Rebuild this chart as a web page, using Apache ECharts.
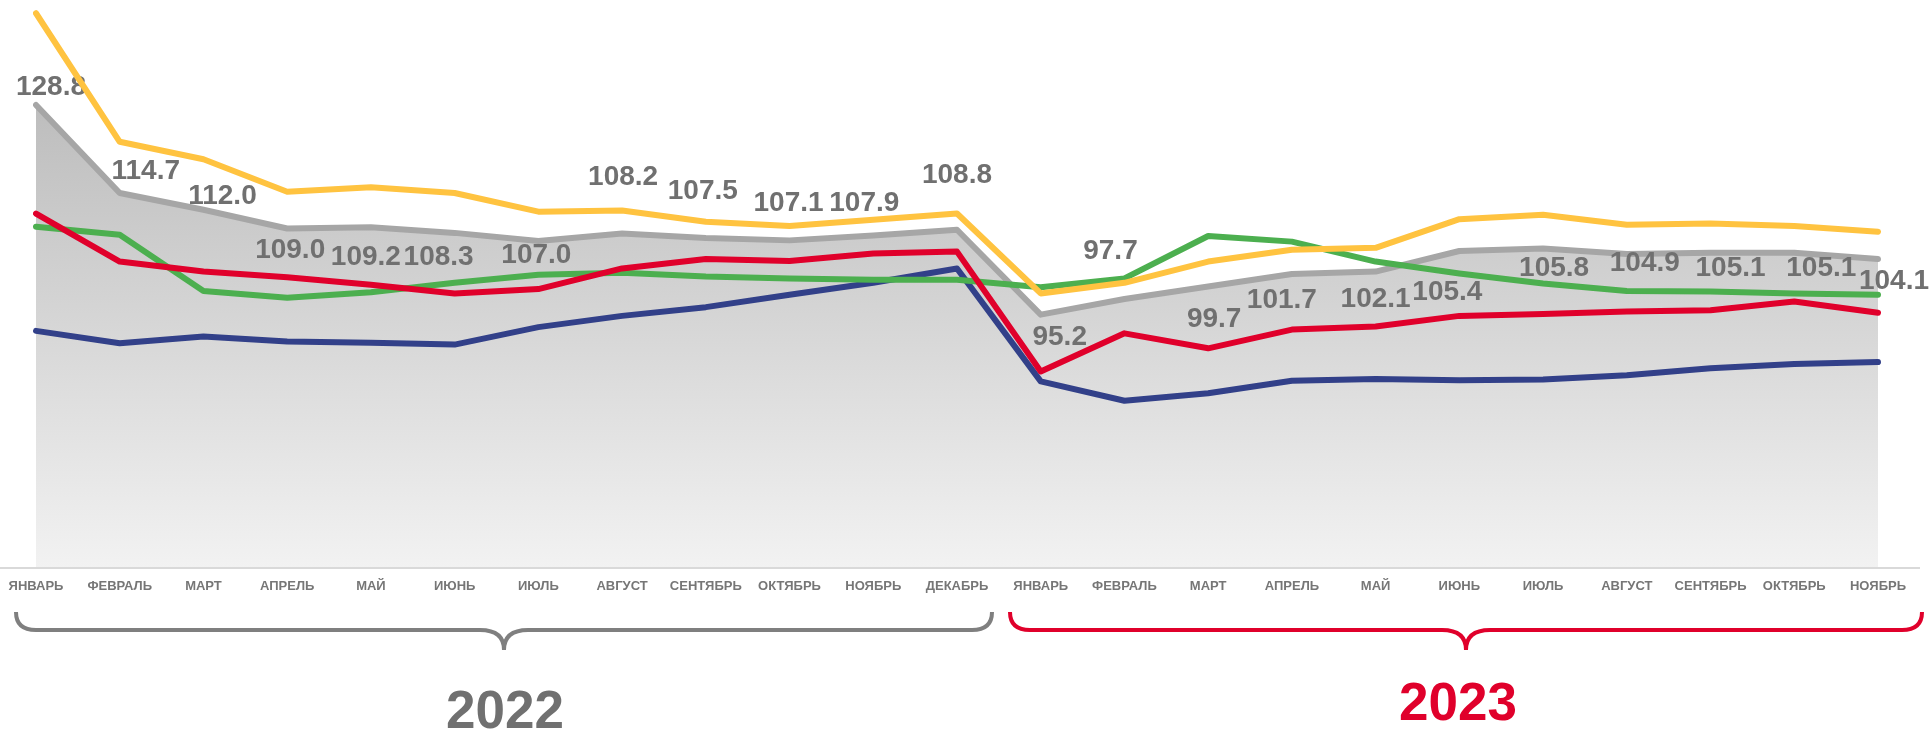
<!DOCTYPE html>
<html>
<head>
<meta charset="utf-8">
<script src="https://cdn.jsdelivr.net/npm/echarts@6/dist/echarts.min.js"></script>
<style>
html, body { margin: 0; padding: 0; background: #fff; }
#mychart { width: 1931px; height: 729px; }
</style>
</head>
<body>
<div id="mychart"></div>
<script>
// месяцы: январь 2022 — ноябрь 2023
const months = ['ЯНВАРЬ','ФЕВРАЛЬ','МАРТ','АПРЕЛЬ','МАЙ','ИЮНЬ','ИЮЛЬ','АВГУСТ','СЕНТЯБРЬ','ОКТЯБРЬ','НОЯБРЬ','ДЕКАБРЬ',
                'ЯНВАРЬ','ФЕВРАЛЬ','МАРТ','АПРЕЛЬ','МАЙ','ИЮНЬ','ИЮЛЬ','АВГУСТ','СЕНТЯБРЬ','ОКТЯБРЬ','НОЯБРЬ'];
const years = ['2022', '2023'];

// серая линия с подписями (с заливкой)
const grayVals = [128.8,114.7,112.0,109.0,109.2,108.3,107.0,108.2,107.5,107.1,107.9,108.8,
                  95.2,97.7,99.7,101.7,102.1,105.4,105.8,104.9,105.1,105.1,104.1];
const yellowVals = [143.5,122.9,120.1,114.9,115.6,114.7,111.7,111.9,110.1,109.4,110.4,111.4,
                    98.6,100.3,103.7,105.6,105.9,110.5,111.2,109.6,109.8,109.4,108.5];
const greenVals = [109.3,108.0,99.0,97.9,98.8,100.3,101.6,101.9,101.3,101.0,100.8,100.8,
                   99.6,101.0,107.8,106.9,103.7,101.8,100.2,99.0,98.9,98.6,98.4];
const redVals = [111.4,103.7,102.1,101.2,100.0,98.6,99.3,102.6,104.1,103.8,105.0,105.3,
                 86.1,92.2,89.8,92.8,93.3,95.0,95.3,95.7,95.9,97.3,95.5];
const blueVals = [92.6,90.6,91.7,90.9,90.7,90.4,93.2,95.0,96.4,98.4,100.3,102.6,
                  84.5,81.4,82.6,84.6,84.9,84.7,84.8,85.5,86.6,87.3,87.6];

// сдвиги подписей относительно точки (как в исходнике, подписи разнесены вручную)
const labelShift = [[15,-18],[26,-22],[19,-14],[3,22],[-5,30],[-16,24],[-2,14],[1,-56],[-3,-47],[-1,-37],[-9,-32],[0,-54],
                    [19,23],[-14,-48],[6,33],[-10,26],[0,28],[-12,41],[11,20],[18,9],[20,15],[27,15],[16,22]];

const FONT = '"Liberation Sans", Arial, sans-serif';
const GRAY_TXT = '#707070';
const RED = '#e0002b';

const myChart = echarts.init(document.getElementById('mychart'));

const lineSeries = (name, vals, color, z) => ({
    name: name,
    type: 'line',
    data: vals,
    symbol: 'none',
    z: z,
    lineStyle: { color: color, width: 6, cap: 'round', join: 'round' }
});

// фигурная скобка под годом
function bracket(x0, xm, x1, color) {
    const st = { fill: null, stroke: color, lineWidth: 4 };
    const top = 612, mid = 630, tip = 650;
    return [
        { type: 'bezierCurve', z: 10, shape: { x1: x0, y1: top, cpx1: x0, cpy1: mid, x2: x0 + 20, y2: mid }, style: st },
        { type: 'line', z: 10, shape: { x1: x0 + 20, y1: mid, x2: xm - 24, y2: mid }, style: st },
        { type: 'bezierCurve', z: 10, shape: { x1: xm - 24, y1: mid, cpx1: xm, cpy1: mid, x2: xm, y2: tip }, style: st },
        { type: 'bezierCurve', z: 10, shape: { x1: xm + 24, y1: mid, cpx1: xm, cpy1: mid, x2: xm, y2: tip }, style: st },
        { type: 'line', z: 10, shape: { x1: xm + 24, y1: mid, x2: x1 - 20, y2: mid }, style: st },
        { type: 'bezierCurve', z: 10, shape: { x1: x1 - 20, y1: mid, cpx1: x1, cpy1: mid, x2: x1, y2: top }, style: st }
    ];
}

myChart.setOption({
    animation: false,
    backgroundColor: '#fff',
    grid: { left: 36, right: 53, top: 7, bottom: 160.4 },
    xAxis: {
        type: 'category',
        boundaryGap: false,
        data: months,
        axisLine: { show: false },
        axisTick: { show: false },
        axisLabel: {
            interval: 0,
            margin: 11,
            color: '#767676',
            fontFamily: FONT,
            fontWeight: 'bold',
            fontSize: 13
        }
    },
    yAxis: {
        type: 'value',
        min: 54.5,
        max: 144.5,
        show: false,
        splitLine: { show: false }
    },
    series: [
        {
            name: 'gray',
            type: 'line',
            data: grayVals,
            symbol: 'circle',
            symbolSize: 1,
            showSymbol: true,
            z: 2,
            itemStyle: { color: 'rgba(0,0,0,0)' },
            lineStyle: { color: '#a6a6a6', width: 6, cap: 'round', join: 'round' },
            areaStyle: {
                color: new echarts.graphic.LinearGradient(0, 0, 0, 1, [
                    { offset: 0, color: '#bdbdbd' },
                    { offset: 1, color: '#f2f2f2' }
                ]),
                opacity: 1
            },
            label: {
                show: true,
                position: 'inside',
                formatter: p => p.value.toFixed(1),
                color: GRAY_TXT,
                fontFamily: FONT,
                fontWeight: 'bold',
                fontSize: 28
            },
            labelLayout: p => ({
                dx: labelShift[p.dataIndex][0],
                dy: labelShift[p.dataIndex][1]
            })
        },
        lineSeries('blue', blueVals, '#324089', 3),
        lineSeries('green', greenVals, '#4caf4f', 4),
        lineSeries('yellow', yellowVals, '#ffc340', 5),
        lineSeries('red', redVals, RED, 6)
    ],
    graphic: [
        {
            type: 'line', z: 10,
            shape: { x1: 0, y1: 568, x2: 1920, y2: 568 },
            style: { stroke: '#d9d9d9', lineWidth: 2 }
        },
        ...bracket(16, 504, 992, '#7f7f7f'),
        ...bracket(1010, 1466, 1922, RED),
        {
            type: 'text', z: 10, x: 505, y: 713,
            style: { text: years[0], align: 'center', verticalAlign: 'middle',
                     font: 'bold 53px ' + FONT, fill: GRAY_TXT }
        },
        {
            type: 'text', z: 10, x: 1458, y: 705,
            style: { text: years[1], align: 'center', verticalAlign: 'middle',
                     font: 'bold 53px ' + FONT, fill: RED }
        }
    ]
});

window.addEventListener('resize', () => {
    myChart.resize();
});
</script>
</body>
</html>
